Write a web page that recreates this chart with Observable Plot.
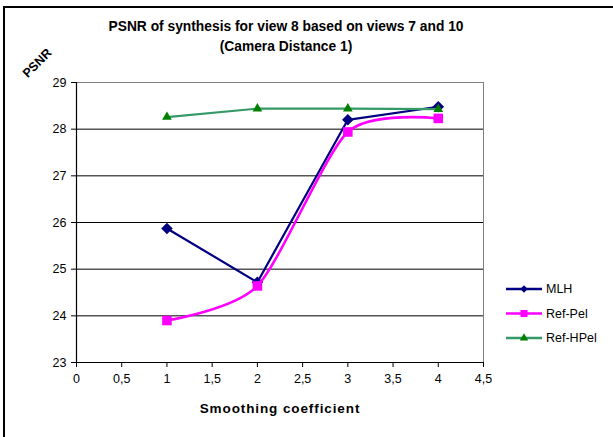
<!DOCTYPE html>
<html>
<head>
<meta charset="utf-8">
<script src="https://cdn.jsdelivr.net/npm/d3@7"></script>
<script src="https://cdn.jsdelivr.net/npm/@observablehq/plot@0.6"></script>
<style>
  html, body { margin: 0; padding: 0; background: white; }
  #chart { width: 613px; height: 437px; overflow: hidden; }
</style>
</head>
<body>
<div id="chart"></div>
<script>
// ---- data ----
const coefficients = [1, 2, 3, 4];
const mlh = [25.87, 24.72, 28.2, 28.48];
const refPel = [23.9, 24.64, 27.94, 28.23];
const refHPel = [28.26, 28.44, 28.44, 28.43];
const seriesNames = ["MLH", "Ref-Pel", "Ref-HPel"];
const seriesColors = ["#000080", "#FF00FF", "#339966"];
const markerColors = ["#000080", "#FF00FF", "#008000"];
const seriesSymbols = ["diamond2", "square", "triangle"];
const xTicks = [0, 0.5, 1, 1.5, 2, 2.5, 3, 3.5, 4, 4.5];
const yTicks = [23, 24, 25, 26, 27, 28, 29];
const titleLines = ["PSNR of synthesis for view 8 based on views 7 and 10", "(Camera Distance 1)"];
const xTitle = "Smoothing coefficient";
const yTitle = "PSNR";

const rows = (vals, name) => coefficients.map((c, i) => ({x: c, y: vals[i], s: name}));
const data = [rows(mlh, "MLH"), rows(refPel, "Ref-Pel"), rows(refHPel, "Ref-HPel")];
const curves = ["linear", "cardinal", "linear"];
const sizes = [5.2, 5.4, 3.6];

const fmt = d => String(d).replace(".", ",");
const FONT = "'Liberation Sans', Arial, sans-serif";

const marks = [
  Plot.ruleY(yTicks.slice(1, -1), {stroke: "black", strokeWidth: 1}),
  Plot.ruleY([29], {stroke: "#808080", strokeWidth: 1}),
  Plot.ruleX([4.5], {stroke: "#808080", strokeWidth: 1}),
  Plot.axisX({ticks: xTicks, tickFormat: fmt, tickSize: 5, tickPadding: 7, label: null, fontSize: 12.5}),
  Plot.axisY({ticks: yTicks, tickFormat: d => String(d), tickSize: 5, tickPadding: 5, label: null, fontSize: 12.5}),
  Plot.ruleY([23], {stroke: "black", strokeWidth: 1.2}),
  Plot.ruleX([0], {stroke: "black", strokeWidth: 1.2})
];
data.forEach((d, i) => {
  marks.push(Plot.line(d, {x: "x", y: "y", stroke: seriesColors[i], strokeWidth: i === 1 ? 2.6 : 2.2, curve: curves[i], tension: 0.25}));
  marks.push(Plot.dot(d, {x: "x", y: "y", symbol: () => seriesSymbols[i], fill: markerColors[i], stroke: "none", r: sizes[i]}));
});

const svg = Plot.plot({
  width: 613,
  height: 437,
  marginLeft: 76,
  marginRight: 130,
  marginTop: 82,
  marginBottom: 75,
  x: {domain: [0, 4.5]},
  y: {domain: [23, 29]},
  symbol: {type: "identity"},
  style: {fontFamily: FONT, fontSize: "12px", color: "black", background: "white", overflow: "visible"},
  marks
});

const s = d3.select(svg);
// outer chart border
s.append("rect").attr("x", 4).attr("y", 7).attr("width", 640).attr("height", 460)
  .attr("fill", "none").attr("stroke", "black").attr("stroke-width", 2);
// title
titleLines.forEach((t, i) => {
  s.append("text").attr("x", 286).attr("y", 31 + i * 20).attr("text-anchor", "middle")
    .attr("font-family", FONT).attr("font-size", 13.8).attr("font-weight", "bold").text(t);
});
// axis titles
s.append("text").attr("x", 280).attr("y", 413).attr("text-anchor", "middle")
  .attr("font-family", FONT).attr("font-size", 13.5).attr("font-weight", "bold")
  .attr("letter-spacing", "0.9px").text(xTitle);
s.append("text").attr("transform", "translate(40,66) rotate(-45)").attr("text-anchor", "middle")
  .attr("font-family", FONT).attr("font-size", 12.5).attr("font-weight", "bold").text(yTitle);
// legend
const symMap = {diamond2: d3.symbolDiamond2, square: d3.symbolSquare, triangle: d3.symbolTriangle};
const legSizes = [36, 50, 30];
seriesNames.forEach((n, i) => {
  const y = 289 + i * 24.5;
  const g = s.append("g");
  g.append("line").attr("x1", 506).attr("x2", 542).attr("y1", y).attr("y2", y)
    .attr("stroke", seriesColors[i]).attr("stroke-width", 2.5);
  g.append("path").attr("d", d3.symbol(symMap[seriesSymbols[i]], legSizes[i])())
    .attr("transform", `translate(524,${y})`).attr("fill", markerColors[i]);
  g.append("text").attr("x", 546).attr("y", y).attr("dy", "0.35em").attr("text-anchor", "start")
    .attr("font-family", FONT).attr("font-size", 12.5).text(n);
});

document.getElementById("chart").appendChild(svg);
</script>
</body>
</html>
